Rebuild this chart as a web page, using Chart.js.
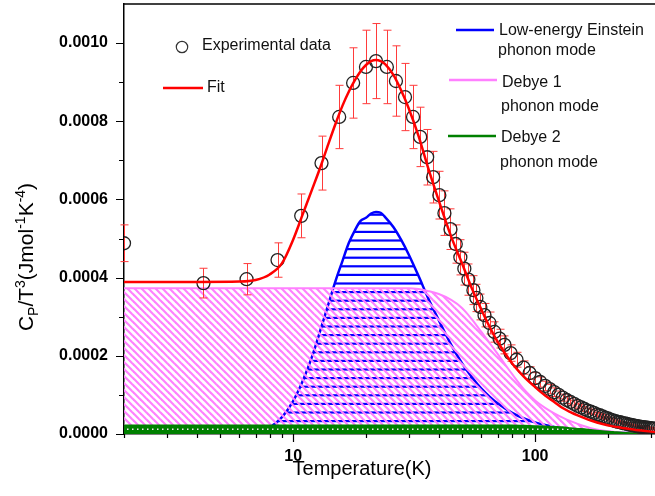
<!DOCTYPE html>
<html>
<head>
<meta charset="utf-8">
<script src="https://cdn.jsdelivr.net/npm/chart.js@4.4.0/dist/chart.umd.min.js"></script>
<style>
  html, body { margin: 0; padding: 0; background: #fff; }
  canvas { display: block; }
</style>
</head>
<body>
<canvas id="chart" width="655" height="496"></canvas>
<script>
// ---- data ----
// temperature grid for the model curves (K)
const modelT = [2, 4, 6, 7, 8, 9, 10,
  11, 12, 13, 14, 15, 16, 17, 18, 19, 20, 21, 22, 23, 24,
  26, 28, 30, 33, 36, 40, 45, 50, 55, 60, 65, 70,
  80, 90, 100, 110, 120, 130, 140, 150, 160, 170,
  190, 210, 230, 260, 280, 313];

const fitVals = [0.000389, 0.000389, 0.000390, 0.000394, 0.000408, 0.000437, 0.000497,
  0.000565, 0.000627, 0.000685, 0.000743, 0.000795, 0.000840, 0.000876, 0.000905, 0.000928, 0.000944, 0.000954, 0.000957, 0.000954, 0.000946,
  0.000918, 0.000878, 0.000834, 0.000762, 0.000684, 0.000597, 0.000505, 0.000435, 0.000370, 0.000318, 0.000273, 0.000236,
  0.000182, 0.000146, 0.000120, 0.0000985, 0.000082, 0.0000665, 0.000056, 0.0000475, 0.0000405, 0.0000345,
  0.0000255, 0.0000195, 0.0000155, 0.0000105, 0.0000082, 0.0000050];

const einsteinVals = [0, 0, 0.000001, 0.000005, 0.000017, 0.000043, 0.000084,
  0.000138, 0.000200, 0.000268, 0.000333, 0.000393, 0.000443, 0.000489, 0.000521, 0.000545, 0.000553, 0.000564, 0.000568, 0.000566, 0.000555,
  0.000529, 0.000496, 0.000460, 0.000404, 0.000350, 0.000291, 0.000228, 0.000180, 0.000144, 0.000116, 0.000095, 0.0000784,
  0.0000546, 0.0000397, 0.0000296, 0.0000228, 0.0000177, 0.0000142, 0.0000113, 0.0000093, 0.0000077, 0.0000064,
  0.0000046, 0.0000035, 0.0000027, 0.0000018, 0.0000015, 0.0000011];

const debye1Vals = [0.000373, 0.000373, 0.000373, 0.000373, 0.000373, 0.000373, 0.000373,
  0.000373, 0.000373, 0.000373, 0.000373, 0.000373, 0.000373, 0.000373, 0.000373, 0.000373, 0.000373, 0.000373, 0.000373, 0.000373, 0.000373,
  0.000373, 0.000373, 0.000373, 0.000371, 0.000366, 0.000358, 0.000343, 0.000322, 0.000292, 0.000261, 0.000232, 0.000205,
  0.000155, 0.000114, 0.000086, 0.000067, 0.000053, 0.000042, 0.000033, 0.000026, 0.000020, 0.000015,
  0.000009, 0.000006, 0.000004, 0.000002, 0.0000015, 0.000001];

const debye2Vals = [0.000022, 0.000022, 0.000022, 0.000022, 0.000022, 0.000022, 0.000022,
  0.000022, 0.000022, 0.000022, 0.000022, 0.000022, 0.000022, 0.000022, 0.000022, 0.000022, 0.000022, 0.000022, 0.000022, 0.000022, 0.000022,
  0.000022, 0.000022, 0.000022, 0.000022, 0.000022, 0.000022, 0.000022, 0.000022, 0.000022, 0.000022, 0.000022, 0.000022,
  0.000022, 0.000021, 0.000020, 0.000019, 0.000018, 0.000017, 0.000015, 0.000013, 0.000012, 0.00001,
  0.000007, 0.000005, 0.000003, 0.000002, 0.0000015, 0.000001];

// experimental points
const expT = [2.0, 4.26, 6.42, 8.62, 10.8, 13.1, 15.5, 17.7, 20.0, 22.0,
  24.4, 26.6, 29.0, 31.3, 33.5, 35.8, 37.9, 40.2, 42.2, 44.7,
  47.0, 49.1, 51.0, 53.0, 55.6, 57.2, 59.4, 61.8, 64.8, 67.9,
  71.3, 74.7, 79.2, 83.8, 89.6, 94.9, 100, 105, 110, 115,
  120, 125, 130, 135, 140, 145, 150, 155, 160, 165,
  170, 175, 180, 185, 190, 195, 200, 205, 210, 215,
  220, 225, 230, 235, 240, 245, 250, 255, 260, 265,
  270, 275, 280, 285, 290, 295, 300, 305, 310];

const expVals = [0.000488, 0.000386, 0.000396, 0.000445, 0.000558, 0.000693, 0.000811, 0.000898, 0.000939, 0.000954,
  0.000939, 0.000903, 0.000862, 0.000811, 0.000760, 0.000708, 0.000657, 0.000611, 0.000565, 0.000524,
  0.000486, 0.000452, 0.000423, 0.000395, 0.000368, 0.000348, 0.000325, 0.000304, 0.000284, 0.000261,
  0.000244, 0.000228, 0.000207, 0.000190, 0.000170, 0.000156, 0.000143, 0.000133, 0.000123, 0.000115,
  0.000107, 0.000100, 0.000093, 0.000087, 0.000082, 0.000077, 0.000072, 0.000068, 0.000064, 0.000060,
  0.000057, 0.000054, 0.000050, 0.000048, 0.000045, 0.000042, 0.000040, 0.000037, 0.000035, 0.000033,
  0.000031, 0.000030, 0.000028, 0.000027, 0.000026, 0.000024, 0.000023, 0.000022, 0.000021, 0.000020,
  0.000019, 0.000018, 0.0000175, 0.000017, 0.000016, 0.0000155, 0.000015, 0.0000145, 0.000014];

const expErr = [0.000047, 0.000038, 0.000040, 0.000044, 0.000056, 0.000069, 0.000081, 0.000090, 0.000094, 0.000096,
  0.000094, 0.000090, 0.000086, 0.000081, 0.000076, 0.000071, 0.000066, 0.000061, 0.000057, 0.000052,
  0.000049, 0.000045, 0.000042, 0.000040, 0.000037, 0.000035, 0.000033, 0.000030, 0.000028, 0.000026,
  0.000024, 0.000023, 0.000021, 0.000019, 0.000017, 0.000016, 0.000014, 0.000013, 0.000012, 0.000012,
  0.000011, 0.000010, 0.000009, 0.000009, 0.000008, 0.000008, 0.000007, 0.000007, 0.000006, 0.000006,
  0.000006, 0.000005, 0.000005, 0.000005, 0.000005, 0.000004, 0.000004, 0.000004, 0.000004, 0.000003,
  0.000003, 0.000003, 0.000003, 0.000003, 0.000003, 0.000002, 0.000002, 0.000002, 0.000002, 0.000002,
  0.000002, 0.000002, 0.000002, 0.000002, 0.000002, 0.000002, 0.000002, 0.000002, 0.000002];

// axis ticks
const xTickVals = [2, 3, 4, 5, 6, 7, 8, 9, 10, 20, 30, 40, 50, 60, 70, 80, 90, 100, 200, 300];
const xTickLabels = { 10: "10", 100: "100" };

const FONT = "'Liberation Sans', Arial, sans-serif";
const PINK = "#ff80ff";
const BLUE = "#0000ff";
const GREEN = "#008000";
const RED = "#ff0000";

function toPoints(xs, ys) {
  return xs.map((x, i) => ({ x: x, y: ys[i] }));
}

// ---- hatch patterns ----
function makePattern(w, h, paint) {
  const c = document.createElement("canvas");
  c.width = w; c.height = h;
  const g = c.getContext("2d");
  paint(g, w, h);
  return g.createPattern(c, "repeat");
}

// blue horizontal lines, ~8.6px apart
const bluePattern = makePattern(8, 43, (g, w, h) => {
  g.fillStyle = BLUE;
  [8.3, 16.9, 25.5, 34.1, 42.7].forEach(c => {
    g.fillRect(0, c - 1.1, w, 2.2);
    g.fillRect(0, c - h - 1.1, w, 2.2);
  });
});

// pink "\\\" diagonal lines
const pinkPattern = makePattern(7, 7, (g, w, h) => {
  g.strokeStyle = PINK;
  g.lineWidth = 2.2;
  for (let k = -1; k <= 1; k++) {
    g.beginPath();
    g.moveTo(k * w - 1, -1);
    g.lineTo(k * w + w + 1, h + 1);
    g.stroke();
  }
});

// green band with a row of white dots
const greenPattern = makePattern(5, 9, (g, w, h) => {
  g.fillStyle = GREEN;
  g.fillRect(0, 0, w, h);
  g.fillStyle = "#f4e8f4";
  g.fillRect(2, 5.5, 1.5, 1.5);
});

// ---- plugins ----
const whiteBg = {
  id: "whiteBg",
  beforeDraw(chart) {
    const ctx = chart.ctx;
    ctx.save();
    ctx.fillStyle = "#fff";
    ctx.fillRect(0, 0, chart.width, chart.height);
    ctx.restore();
  }
};

const errorBars = {
  id: "errorBars",
  beforeDatasetDraw(chart, args) {
    if (chart.data.datasets[args.index].label !== "Experimental data") return;
    const ctx = chart.ctx;
    const xs = chart.scales.x, ys = chart.scales.y;
    ctx.save();
    ctx.strokeStyle = "#ff3b3b";
    ctx.lineWidth = 1;
    expT.forEach((t, i) => {
      const px = Math.round(xs.getPixelForValue(t)) + 0.5;
      const top = ys.getPixelForValue(expVals[i] + expErr[i]);
      const bot = ys.getPixelForValue(expVals[i] - expErr[i]);
      ctx.beginPath();
      ctx.moveTo(px, top); ctx.lineTo(px, bot);
      ctx.moveTo(px - 4, top); ctx.lineTo(px + 4, top);
      ctx.moveTo(px - 4, bot); ctx.lineTo(px + 4, bot);
      ctx.stroke();
    });
    ctx.restore();
  }
};

const axisDecor = {
  id: "axisDecor",
  afterDraw(chart) {
    const ctx = chart.ctx;
    const area = chart.chartArea;
    const xs = chart.scales.x, ys = chart.scales.y;
    ctx.save();
    ctx.strokeStyle = "#000";
    ctx.lineWidth = 1.5;
    // top frame line
    ctx.beginPath();
    ctx.moveTo(area.left, area.top);
    ctx.lineTo(area.right, area.top);
    ctx.stroke();
    // tick marks (outward)
    ctx.lineWidth = 1.2;
    ctx.beginPath();
    xTickVals.forEach(v => {
      const px = Math.round(xs.getPixelForValue(v)) + 0.5;
      const len = xTickLabels[v] ? 8 : 4;
      ctx.moveTo(px, area.bottom);
      ctx.lineTo(px, area.bottom + len);
    });
    ys.ticks.forEach(t => {
      if (t.value > 0.00105) return;
      const py = Math.round(ys.getPixelForValue(t.value)) + 0.5;
      const len = Math.round(t.value * 1e4) % 2 === 0 ? 8 : 5;
      ctx.moveTo(area.left, py);
      ctx.lineTo(area.left - len, py);
    });
    ctx.stroke();

    // axis titles
    ctx.fillStyle = "#000";
    ctx.textBaseline = "middle";
    ctx.textAlign = "center";
    ctx.font = "20px " + FONT;
    ctx.fillText("Temperature(K)", 362, 469);

    const parts = [
      { t: "C" }, { t: "P", dy: 5 }, { t: "/T" }, { t: "3", dy: -8 },
      { t: "(Jmol" }, { t: "-1", dy: -8 }, { t: "K" }, { t: "-4", dy: -8 }, { t: ")" }
    ];
    const big = "21px " + FONT, small = "14px " + FONT;
    let total = 0;
    parts.forEach(p => {
      ctx.font = p.dy ? small : big;
      p.w = ctx.measureText(p.t).width;
      total += p.w;
    });
    ctx.translate(33, 257);
    ctx.rotate(-Math.PI / 2);
    ctx.textAlign = "left";
    ctx.textBaseline = "alphabetic";
    let cx = -total / 2;
    parts.forEach(p => {
      ctx.font = p.dy ? small : big;
      ctx.fillText(p.t, cx, p.dy || 0);
      cx += p.w;
    });
    ctx.restore();
  }
};

const legendBox = {
  id: "legendBox",
  afterDraw(chart) {
    const ctx = chart.ctx;
    ctx.save();
    ctx.font = "16px " + FONT;
    ctx.fillStyle = "#111";
    ctx.textBaseline = "middle";
    ctx.textAlign = "left";

    ctx.strokeStyle = "#333";
    ctx.lineWidth = 1.2;
    ctx.beginPath();
    ctx.arc(182, 47, 5.7, 0, Math.PI * 2);
    ctx.stroke();
    ctx.fillText("Experimental data", 202, 46);

    function sample(color, x1, x2, y) {
      ctx.strokeStyle = color;
      ctx.lineWidth = 2.5;
      ctx.beginPath();
      ctx.moveTo(x1, y);
      ctx.lineTo(x2, y);
      ctx.stroke();
    }
    sample(RED, 163, 203, 88);
    ctx.fillText("Fit", 207, 88);

    sample(BLUE, 456, 494, 30);
    ctx.fillText("Low-energy Einstein", 499, 31);
    ctx.fillText("phonon mode", 498, 51);

    sample(PINK, 449, 497, 80);
    ctx.fillText("Debye 1", 502, 83);
    ctx.fillText("phonon mode", 501, 107);

    sample(GREEN, 448, 496, 136);
    ctx.fillText("Debye 2", 501, 138);
    ctx.fillText("phonon mode", 500, 163);
    ctx.restore();
  }
};

// ---- chart ----
const lineDefaults = {
  pointRadius: 0,
  cubicInterpolationMode: "monotone",
  fill: "origin"
};

new Chart(document.getElementById("chart"), {
  type: "line",
  data: {
    datasets: [
      Object.assign({
        label: "Fit",
        data: toPoints(modelT, fitVals),
        borderColor: RED,
        borderWidth: 2.5,
        order: 1
      }, lineDefaults, { fill: false }),
      {
        label: "Experimental data",
        data: toPoints(expT, expVals),
        showLine: false,
        pointRadius: 6.5,
        pointStyle: "circle",
        pointBorderColor: "#222",
        pointBorderWidth: 1.3,
        pointBackgroundColor: "rgba(0,0,0,0)",
        clip: 0,
        order: 2
      },
      Object.assign({
        label: "Debye 2 phonon mode",
        data: toPoints(modelT, debye2Vals),
        borderColor: GREEN,
        borderWidth: 2,
        backgroundColor: greenPattern,
        order: 3
      }, lineDefaults),
      Object.assign({
        label: "Debye 1 phonon mode",
        data: toPoints(modelT, debye1Vals),
        borderColor: PINK,
        borderWidth: 2,
        backgroundColor: pinkPattern,
        order: 4
      }, lineDefaults),
      Object.assign({
        label: "Low-energy Einstein phonon mode",
        data: toPoints(modelT, einsteinVals),
        borderColor: BLUE,
        borderWidth: 2.5,
        backgroundColor: bluePattern,
        order: 5
      }, lineDefaults)
    ]
  },
  options: {
    responsive: false,
    animation: false,
    devicePixelRatio: 1,
    layout: { autoPadding: false, padding: { top: 4, right: 0, left: 0, bottom: 0 } },
    plugins: {
      legend: { display: false },
      tooltip: { enabled: false }
    },
    scales: {
      x: {
        type: "logarithmic",
        min: 2,
        max: 313,
        afterBuildTicks(scale) {
          scale.ticks = xTickVals.map(v => ({ value: v }));
        },
        afterFit(scale) {
          scale.height = 62;
          scale.paddingLeft = 0;
          scale.paddingRight = 0;
        },
        grid: { display: false, drawTicks: false },
        border: { display: true, color: "#000", width: 1.5 },
        ticks: {
          autoSkip: false,
          maxRotation: 0,
          padding: 13,
          color: "#000",
          font: { family: FONT, size: 16, weight: "bold" },
          callback: v => xTickLabels[v] || ""
        }
      },
      y: {
        type: "linear",
        min: 0,
        max: 0.0011,
        afterFit(scale) {
          scale.width = 124;
          scale.paddingTop = 0;
          scale.paddingBottom = 0;
        },
        grid: { display: false, drawTicks: false },
        border: { display: true, color: "#000", width: 1.5 },
        ticks: {
          stepSize: 0.0001,
          autoSkip: false,
          padding: 16,
          color: "#000",
          font: { family: FONT, size: 16, weight: "bold" },
          callback: v => (Math.round(v * 1e4) % 2 === 0 && v < 0.00105) ? v.toFixed(4) : ""
        }
      }
    }
  },
  plugins: [whiteBg, errorBars, axisDecor, legendBox]
});
</script>
</body>
</html>
